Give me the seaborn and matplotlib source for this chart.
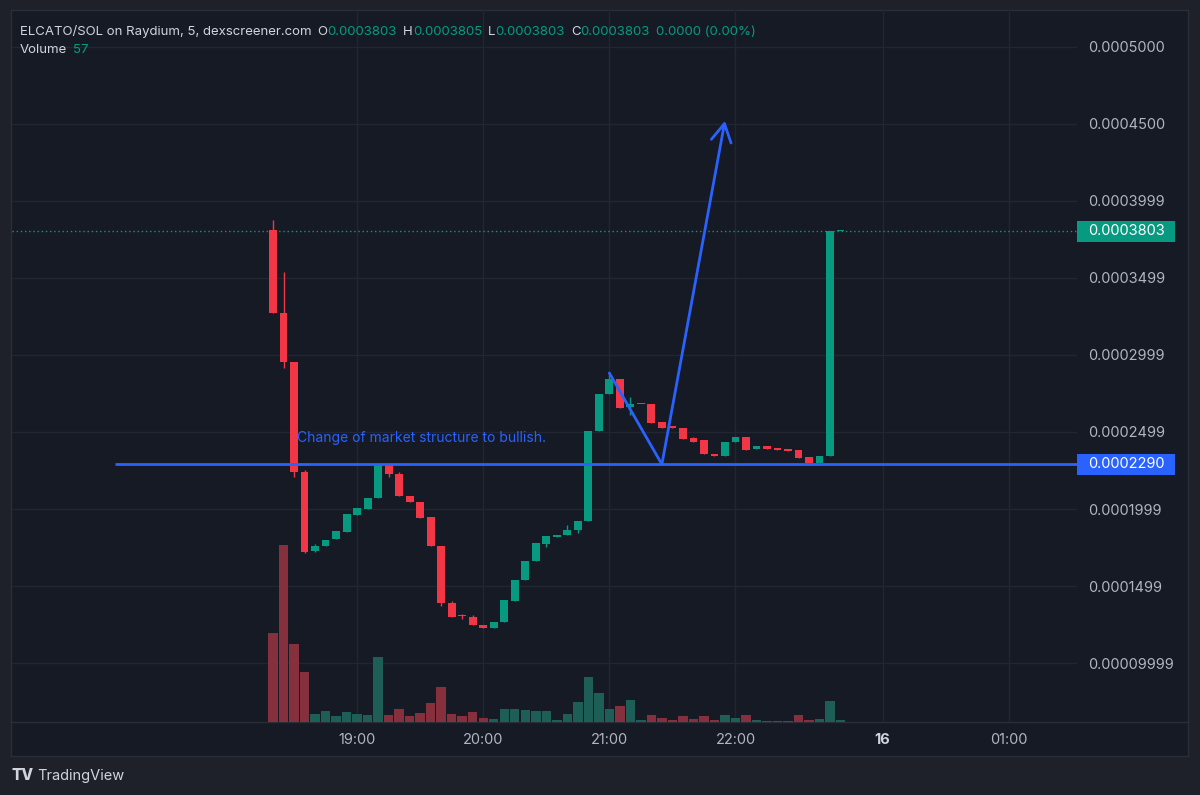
import numpy as np
import pandas as pd
import matplotlib.pyplot as plt
import matplotlib.transforms as mtransforms
from matplotlib.patches import Rectangle
from matplotlib.lines import Line2D
import seaborn as sns

# 5-minute bars, ELCATO/SOL (bar index is the x position, gaps are skipped like TradingView)
opens = [0.0003810, 0.0003273, 0.0002955, 0.0002240, 0.0001727, 0.0001760, 0.0001805, 0.0001851,
         0.0001961, 0.0002000, 0.0002071, 0.0002286, 0.0002227, 0.0002084, 0.0002045, 0.0001948,
         0.0001760, 0.0001390, 0.0001307, 0.0001299, 0.0001247, 0.0001227, 0.0001266, 0.0001403,
         0.0001539, 0.0001662, 0.0001773, 0.0001818, 0.0001831, 0.0001864, 0.0001922, 0.0002506,
         0.0002747, 0.0002844, 0.0002662, 0.0002680, 0.0002682, 0.0002565, 0.0002532, 0.0002526,
         0.0002461, 0.0002448, 0.0002357, 0.0002344, 0.0002435, 0.0002468, 0.0002390, 0.0002409,
         0.0002396, 0.0002390, 0.0002383, 0.0002338, 0.0002299, 0.0002344, 0.0003803]
closes = [0.0003273, 0.0002955, 0.0002240, 0.0001721, 0.0001760, 0.0001799, 0.0001857, 0.0001968,
          0.0002006, 0.0002071, 0.0002286, 0.0002227, 0.0002084, 0.0002045, 0.0001942, 0.0001760,
          0.0001390, 0.0001299, 0.0001303, 0.0001247, 0.0001227, 0.0001266, 0.0001409, 0.0001539,
          0.0001662, 0.0001779, 0.0001825, 0.0001831, 0.0001864, 0.0001922, 0.0002506, 0.0002747,
          0.0002844, 0.0002656, 0.0002682, 0.0002682, 0.0002558, 0.0002526, 0.0002526, 0.0002455,
          0.0002435, 0.0002357, 0.0002344, 0.0002435, 0.0002468, 0.0002383, 0.0002409, 0.0002390,
          0.0002383, 0.0002377, 0.0002331, 0.0002299, 0.0002344, 0.0003803, 0.0003803]
highs = [0.0003877, 0.0003539, 0.0002955, 0.0002253, 0.0001770, 0.0001799, 0.0001857, 0.0001968,
         0.0002006, 0.0002071, 0.0002286, 0.0002286, 0.0002240, 0.0002084, 0.0002045, 0.0001948,
         0.0001760, 0.0001403, 0.0001318, 0.0001312, 0.0001247, 0.0001266, 0.0001409, 0.0001539,
         0.0001662, 0.0001779, 0.0001825, 0.0001831, 0.0001896, 0.0001922, 0.0002506, 0.0002747,
         0.0002883, 0.0002844, 0.0002727, 0.0002682, 0.0002682, 0.0002565, 0.0002532, 0.0002526,
         0.0002468, 0.0002448, 0.0002357, 0.0002435, 0.0002468, 0.0002468, 0.0002409, 0.0002409,
         0.0002396, 0.0002390, 0.0002383, 0.0002338, 0.0002344, 0.0003803, 0.0003805]
lows = [0.0003273, 0.0002916, 0.0002208, 0.0001714, 0.0001721, 0.0001760, 0.0001805, 0.0001851,
        0.0001961, 0.0002000, 0.0002071, 0.0002208, 0.0002084, 0.0002045, 0.0001942, 0.0001760,
        0.0001370, 0.0001299, 0.0001286, 0.0001247, 0.0001227, 0.0001227, 0.0001266, 0.0001403,
        0.0001539, 0.0001662, 0.0001753, 0.0001818, 0.0001831, 0.0001844, 0.0001922, 0.0002506,
        0.0002747, 0.0002656, 0.0002610, 0.0002680, 0.0002558, 0.0002526, 0.0002526, 0.0002455,
        0.0002435, 0.0002357, 0.0002344, 0.0002344, 0.0002435, 0.0002383, 0.0002390, 0.0002390,
        0.0002383, 0.0002377, 0.0002331, 0.0002299, 0.0002299, 0.0002344, 0.0003803]
volume = [3380, 6730, 2960, 1900, 300, 420, 230, 380, 300, 270, 2470, 270, 490, 230, 340, 720,
          1330, 300, 230, 380, 150, 110, 490, 490, 460, 420, 420, 80, 300, 760, 1710, 1100, 490,
          610, 840, 80, 270, 150, 80, 230, 110, 230, 80, 270, 150, 270, 80, 40, 40, 40, 270, 80,
          110, 800, 57]

time_ticks = [8, 20, 32, 44, 58, 70]
time_labels = ["19:00", "20:00", "21:00", "22:00", "16", "01:00"]
price_ticks = [0.0001, 0.00015, 0.0002, 0.00025, 0.0003, 0.00035, 0.0004, 0.00045, 0.0005]
price_labels = ["0.00009999", "0.0001499", "0.0001999", "0.0002499", "0.0002999",
                "0.0003499", "0.0003999", "0.0004500", "0.0005000"]

# drawings
level = 0.0002290
level_start = -15.0
arrow_x = [32.0, 37.0, 43.0]
arrow_y = [0.0002883, 0.0002290, 0.0004520]
note_x, note_y = 2.3, 0.0002461
note = "Change of market structure to bullish."

XLIM = (-24.84, 76.5)
YLIM = (0.0000617, 0.000524)

OUTER = "#1e212a"
PANEL = "#161a25"
BORDER = "#2a2e39"
GRID = "#222632"
GREEN = "#089981"
RED = "#f23645"
VGREEN = "#1d5f56"
VRED = "#86303d"
BLUE = "#2962ff"
TXT = "#d1d4dc"
AXTXT = "#b2b5be"

sns.set_theme(style="dark")
plt.rcParams["font.family"] = ["Inter", "DejaVu Sans"]

df = pd.DataFrame({"x": np.arange(len(opens)), "open": opens, "close": closes,
                   "high": highs, "low": lows, "volume": volume})
df["dir"] = np.where(df["close"] >= df["open"], "up", "down")

fig = plt.figure(figsize=(12, 7.95), dpi=100, facecolor=OUTER)
W, H = 1200, 795
fig.add_artist(Rectangle((11 / W, 39 / H), 1177 / W, 746 / H, transform=fig.transFigure,
                         fc=PANEL, ec=BORDER, lw=1, zorder=-5))
fig.add_artist(Line2D([11 / W, 1188 / W], [73 / H, 73 / H], transform=fig.transFigure,
                      color=BORDER, lw=1, zorder=-4))

rect = [12 / W, 73 / H, 1065 / W, 712 / H]
ax = fig.add_axes(rect)
ax.set_facecolor("none")
ax.set_zorder(1)

# volume pane
axv = ax.twinx()
axv.set_zorder(2)
axv.patch.set_visible(False)
sns.barplot(data=df, x="x", y="volume", hue="dir", palette={"up": VGREEN, "down": VRED},
            native_scale=True, width=0.9, dodge=False, legend=False, errorbar=None,
            saturation=1, linewidth=0, ax=axv)
axv.set_ylim(0, 27000)
axv.axis("off")

# candles
axc = fig.add_axes(rect, sharex=ax, sharey=ax)
axc.set_zorder(3)
axc.patch.set_visible(False)
cols = np.where(df["dir"] == "up", GREEN, RED)
axc.vlines(df["x"], df["low"], df["high"], colors=cols, lw=1, zorder=2)
body_bottom = np.minimum(df["open"], df["close"])
body_h = np.maximum((df["close"] - df["open"]).abs(), 1.0e-6)
axc.bar(df["x"], body_h, bottom=body_bottom, width=0.74, color=cols, linewidth=0, zorder=3)

last = closes[-1]
axc.axhline(last, color=GREEN, lw=1, ls=(0, (1, 2)), zorder=1)
axc.hlines(level, level_start, XLIM[1], color=BLUE, lw=2, zorder=5)
axc.plot(arrow_x[:2], arrow_y[:2], color=BLUE, lw=2, zorder=5, solid_capstyle="round")
axc.annotate("", xy=(arrow_x[2], arrow_y[2]), xytext=(arrow_x[1], arrow_y[1]),
             arrowprops=dict(arrowstyle="->,head_length=0.8,head_width=0.45", color=BLUE,
                             lw=2, shrinkA=0, shrinkB=0, mutation_scale=16), zorder=5)
axc.text(note_x, note_y, note, color=BLUE, fontsize=10, va="center", ha="left", zorder=6)

trans = mtransforms.blended_transform_factory(axc.transAxes, axc.transData)
for val, lab, col in [(level, "0.0002290", BLUE), (last, "0.0003803", GREEN)]:
    axc.add_patch(Rectangle((1.0, val - 0.68e-5), 0.092, 1.36e-5, transform=trans, fc=col,
                            ec="none", clip_on=False, zorder=6))
    axc.text(1 + 11 / 1065, val, lab, transform=trans, color="white", fontsize=10.5,
             va="center", ha="left", clip_on=False, zorder=7)
axc.axis("off")

# price / time axes
ax.set_xlim(*XLIM)
ax.set_ylim(*YLIM)
ax.set_xticks(time_ticks)
ax.set_xticklabels(time_labels)
ax.set_yticks(price_ticks)
ax.set_yticklabels(price_labels)
ax.yaxis.tick_right()
ax.tick_params(axis="y", length=0, pad=8, colors=AXTXT, labelsize=10.5)
ax.tick_params(axis="x", length=0, pad=8, colors=AXTXT, labelsize=10.5)
ax.get_xticklabels()[4].set_fontweight("bold")
ax.get_xticklabels()[4].set_color(TXT)
ax.grid(True, color=GRID, lw=1)
ax.set_xlabel("")
ax.set_ylabel("")
for s in ax.spines.values():
    s.set_visible(False)

# legend header
renderer = fig.canvas.get_renderer()
def chain(parts, x0, base):
    x = x0
    for s, c, gap in parts:
        t = fig.text(x / W, 1 - base / H, s, color=c, fontsize=9.5, va="baseline", ha="left")
        x = t.get_window_extent(renderer).x1 + gap

chain([("ELCATO/SOL on Raydium, 5, dexscreener.com", TXT, 6),
       ("O", TXT, 0), ("0.0003803", GREEN, 6),
       ("H", TXT, 0), ("0.0003805", GREEN, 6),
       ("L", TXT, 0), ("0.0003803", GREEN, 6),
       ("C", TXT, 0), ("0.0003803", GREEN, 6),
       ("0.0000 (0.00%)", GREEN, 0)], 20, 35)
chain([("Volume", TXT, 6), ("57", GREEN, 0)], 20, 53)

fig.text(12 / W, 1 - 780 / H, "TV", color=TXT, fontsize=11, fontweight="heavy", va="baseline")
fig.text(37 / W, 1 - 780 / H, "TradingView", color=TXT, fontsize=10.5, va="baseline")

fig.savefig("out.png", dpi=100, facecolor=OUTER)
